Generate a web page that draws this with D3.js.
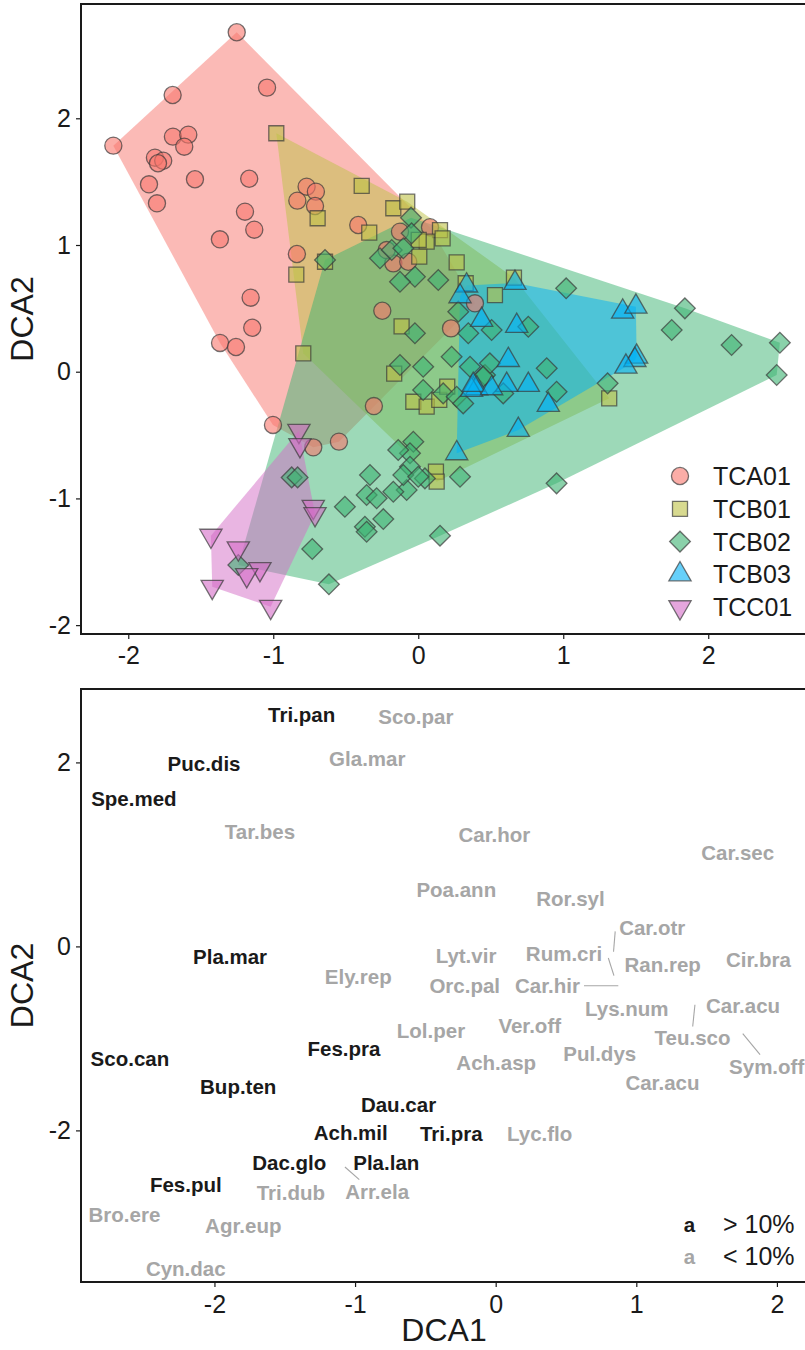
<html>
<head>
<meta charset="utf-8">
<script src="https://d3js.org/d3.v7.min.js"></script>
<style>
  body { margin: 0; background: #fff; }
  text { font-family: "Liberation Sans", Arial, Helvetica, sans-serif; }
</style>
</head>
<body>
<svg id="dca" width="805" height="1350"></svg>
<script>
// ---- site scores (DCA1, DCA2) per group ----
const groups = ["TCA01", "TCB01", "TCB02", "TCB03", "TCC01"];

const tca01 = [
  [-1.252, 2.679], [-1.694, 2.184], [-1.043, 2.242], [-2.103, 1.784], [-1.692, 1.855],
  [-1.586, 1.871], [-1.614, 1.776], [-1.816, 1.689], [-1.759, 1.665], [-1.795, 1.645],
  [-1.857, 1.479], [-1.540, 1.519], [-1.166, 1.523], [-1.802, 1.329], [-1.195, 1.263],
  [-1.131, 1.121], [-1.368, 1.045], [-1.156, 0.584], [-1.145, 0.347], [-1.367, 0.227],
  [-1.257, 0.195], [-1.002, -0.420], [-0.724, -0.597], [-0.547, -0.552], [-0.306, -0.271],
  [-0.770, 1.460], [-0.706, 1.421], [-0.834, 1.350], [-0.712, 1.308], [-0.414, 1.158],
  [-0.837, 0.929], [-0.248, 0.481], [-0.126, 1.105], [0.081, 1.140], [-0.172, 0.855],
  [-0.069, 0.868], [-0.218, 0.960], [0.226, 0.342], [0.391, 0.540]
];

const tcb01 = [
  [-0.979, 1.882], [-0.390, 1.466], [-0.172, 1.290], [-0.076, 1.342], [-0.694, 1.211],
  [-0.338, 1.097], [-0.841, 0.766], [-0.643, 0.868], [-0.115, 0.358], [0.150, 1.118],
  [0.168, 1.053], [0.058, 1.026], [0.003, 1.040], [0.007, 0.908], [0.265, 0.863],
  [0.327, 0.698], [0.660, 0.742], [0.529, 0.605], [-0.793, 0.145], [-0.166, -0.015],
  [-0.034, -0.237], [0.058, -0.276], [0.145, -0.223], [0.200, -0.118], [0.122, -0.789],
  [0.127, -0.868], [1.317, -0.210]
];

const tcb02 = [
  [1.020, 0.658], [1.839, 0.500], [1.748, 0.329], [2.161, 0.211], [2.494, 0.229],
  [2.472, -0.026], [1.306, -0.092], [0.954, -0.158], [0.886, 0.027], [0.759, 0.355],
  [0.506, 0.329], [0.345, 0.303], [0.230, 0.118], [0.034, 0.039], [-0.023, 0.303],
  [-0.023, 0.750], [0.138, 0.724], [0.276, 0.474], [0.357, 0.039], [0.460, -0.026],
  [0.034, -0.144], [0.172, -0.171], [0.265, -0.197], [0.310, -0.250], [-0.034, -0.553],
  [-0.057, -0.644], [-0.057, -0.750], [0.046, -0.842], [0.288, -0.829], [0.954, -0.881],
  [-0.080, -0.934], [-0.126, 0.053], [0.494, 0.066], [0.448, -0.039], [0.586, -0.171],
  [-0.138, -0.618], [-0.333, -0.815], [-0.103, -0.815], [-0.172, -0.947], [-0.356, -0.973],
  [-0.287, -0.999], [-0.506, -1.066], [-0.241, -1.163], [-0.368, -1.223], [-0.356, -1.263],
  [0.150, -1.294], [-0.731, -1.399], [-0.616, -1.678], [-0.873, -0.834], [-0.832, -0.834],
  [-1.241, -1.526], [-0.050, 1.216], [-0.046, 1.092], [-0.643, 0.882], [-0.264, 0.895],
  [-0.183, 0.960], [-0.103, 0.974], [-0.126, 0.710], [0.000, -0.829]
];

const tcb03 = [
  [1.410, 0.474], [1.501, 0.513], [1.506, 0.118], [1.494, 0.092], [1.432, 0.039],
  [0.667, 0.700], [0.333, 0.680], [0.288, 0.595], [0.437, 0.408], [0.679, 0.361],
  [0.621, 0.092], [0.759, -0.105], [0.610, -0.105], [0.403, -0.131], [0.368, -0.144],
  [0.379, -0.105], [0.506, -0.131], [0.897, -0.263], [0.690, -0.460], [0.265, -0.644]
];

const tcc01 = [
  [-0.823, -0.466], [-0.816, -0.579], [-0.724, -1.066], [-0.712, -1.123], [-1.430, -1.294],
  [-1.241, -1.394], [-1.092, -1.557], [-1.183, -1.605], [-1.421, -1.697], [-1.018, -1.855]
];

// ---- species scores: name, DCA1, DCA2 ----
const speciesOver10 = [
  ["Tri.pan", -1.380, 2.518], ["Puc.dis", -2.074, 1.986], ["Spe.med", -2.573, 1.602],
  ["Pla.mar", -1.889, -0.109], ["Sco.can", -2.601, -1.224], ["Bup.ten", -1.831, -1.528],
  ["Fes.pra", -1.079, -1.115], ["Dau.car", -0.691, -1.721], ["Ach.mil", -1.031, -2.028],
  ["Tri.pra", -0.316, -2.039], ["Dac.glo", -1.468, -2.354], ["Pla.lan", -0.778, -2.354],
  ["Fes.pul", -2.204, -2.590]
];

const speciesUnder10 = [
  ["Sco.par", -0.568, 2.500], ["Gla.mar", -0.913, 2.037], ["Tar.bes", -1.676, 1.243],
  ["Car.hor", -0.009, 1.214], ["Car.sec", 1.721, 1.015], ["Poa.ann", -0.280, 0.616],
  ["Ror.syl", 0.532, 0.515], ["Car.otr", 1.113, 0.200], ["Lyt.vir", -0.211, -0.101],
  ["Rum.cri", 0.486, -0.079], ["Ran.rep", 1.188, -0.199], ["Cir.bra", 1.868, -0.145],
  ["Ely.rep", -0.977, -0.333], ["Orc.pal", -0.220, -0.427], ["Car.hir", 0.368, -0.427],
  ["Lys.num", 0.932, -0.680], ["Car.acu", 1.759, -0.645], ["Lol.per", -0.460, -0.916],
  ["Ver.off", 0.242, -0.862], ["Teu.sco", 1.400, -0.996], ["Ach.asp", 0.004, -1.261],
  ["Pul.dys", 0.740, -1.170], ["Sym.off", 1.927, -1.304], ["Car.acu", 1.186, -1.485],
  ["Lyc.flo", 0.313, -2.039], ["Tri.dub", -1.457, -2.674], ["Arr.ela", -0.843, -2.663],
  ["Bro.ere", -2.640, -2.916], ["Agr.eup", -1.795, -3.036], ["Cyn.dac", -2.204, -3.503]
];

// repel leader segments: x1, y1, x2, y2
const leaders = [
  [0.850, 0.163, 0.838, -0.058], [0.801, -0.126, 0.841, -0.318],
  [0.628, -0.427, 0.872, -0.427], [1.417, -0.634, 1.401, -0.870],
  [1.757, -0.949, 1.880, -1.177], [-1.072, -2.398, -0.970, -2.536]
];

const topXTicks = [-2, -1, 0, 1, 2];
const topYTicks = [-2, -1, 0, 1, 2];
const botXTicks = [-2, -1, 0, 1, 2];
const botYTicks = [-2, 0, 2];
const abundanceKey = ["> 10%", "< 10%"];

// ---- styling ----
const colors = {TCA01: "#F8766D", TCB01: "#BEC146", TCB02: "#3CB371", TCB03: "#00B0F6", TCC01: "#D36BC6"};
const shapes = {
  TCA01: {type: d3.symbolCircle, size: 230, rot: 0},
  TCB01: {type: d3.symbolSquare, size: 225, rot: 0},
  TCB02: {type: d3.symbolSquare, size: 215, rot: 45},
  TCB03: {type: d3.symbolTriangle, size: 215, rot: 0},
  TCC01: {type: d3.symbolTriangle, size: 215, rot: 180}
};
const ink = "#1a1a1a";
const greyInk = "#a6a6a6";

const svg = d3.select("#dca");

const topBox = {left: 81, top: 4, right: 808, bottom: 634};
const botBox = {left: 81, top: 689, right: 808, bottom: 1282};

const xTop = d3.scaleLinear().domain([-2.326, 2.688]).range([topBox.left, topBox.right]);
const yTop = d3.scaleLinear().domain([-2.070, 2.902]).range([topBox.bottom, topBox.top]);
const xBot = d3.scaleLinear().domain([-2.949, 2.221]).range([botBox.left, botBox.right]);
const yBot = d3.scaleLinear().domain([-3.648, 2.798]).range([botBox.bottom, botBox.top]);

// plain hyphen for negatives, as in the original figure
const tickText = d => String(d);

function styleAxis(g) {
  g.select(".domain").remove();
  g.selectAll("line").attr("stroke", ink).attr("stroke-width", 1.2);
  g.selectAll("text").attr("fill", ink).style("font-size", "25px")
    .style("font-family", '"Liberation Sans", Arial, sans-serif');
}

function drawFrame(box, xs, ys, xt, yt, xpad) {
  svg.append("g")
    .attr("transform", `translate(0,${box.bottom})`)
    .call(d3.axisBottom(xs).tickValues(xt).tickSize(5).tickPadding(xpad).tickFormat(tickText))
    .call(styleAxis);
  svg.append("g")
    .attr("transform", `translate(${box.left},0)`)
    .call(d3.axisLeft(ys).tickValues(yt).tickSize(5).tickPadding(5).tickFormat(tickText))
    .call(styleAxis);
  svg.append("rect")
    .attr("x", box.left).attr("y", box.top)
    .attr("width", box.right - box.left).attr("height", box.bottom - box.top)
    .attr("fill", "none").attr("stroke", ink).attr("stroke-width", 2);
}

// ================= top panel: sites =================
const siteData = {TCA01: tca01, TCB01: tcb01, TCB02: tcb02, TCB03: tcb03, TCC01: tcc01};

const clipTop = svg.append("clipPath").attr("id", "clipTop");
clipTop.append("rect").attr("x", topBox.left).attr("y", topBox.top)
  .attr("width", topBox.right - topBox.left).attr("height", topBox.bottom - topBox.top);

const topPlot = svg.append("g").attr("clip-path", "url(#clipTop)");

// convex hulls
topPlot.selectAll("path.hull")
  .data(groups)
  .join("path")
  .attr("class", "hull")
  .attr("d", g => "M" + d3.polygonHull(siteData[g].map(d => [xTop(d[0]), yTop(d[1])])).join("L") + "Z")
  .attr("fill", g => colors[g])
  .attr("fill-opacity", 0.5)
  .attr("stroke", "none");

// points
groups.forEach(g => {
  const sym = d3.symbol().type(shapes[g].type).size(shapes[g].size);
  topPlot.append("g").selectAll("path")
    .data(siteData[g])
    .join("path")
    .attr("d", sym)
    .attr("transform", d => `translate(${xTop(d[0])},${yTop(d[1])}) rotate(${shapes[g].rot})`)
    .attr("fill", colors[g])
    .attr("fill-opacity", 0.6)
    .attr("stroke", "#3a3a3a")
    .attr("stroke-opacity", 0.7)
    .attr("stroke-width", 1.3);
});

drawFrame(topBox, xTop, yTop, topXTicks, topYTicks, 7);

svg.append("text")
  .attr("transform", `translate(33,${(topBox.top + topBox.bottom) / 2}) rotate(-90)`)
  .attr("text-anchor", "middle")
  .attr("fill", ink)
  .style("font-size", "32px")
  .text("DCA2");

// legend
const legend = svg.append("g").attr("transform", "translate(680,476)");
groups.forEach((g, i) => {
  const row = legend.append("g").attr("transform", `translate(0,${i * 32.8})`);
  row.append("path")
    .attr("d", d3.symbol().type(shapes[g].type).size(shapes[g].size)())
    .attr("transform", `rotate(${shapes[g].rot})`)
    .attr("fill", colors[g])
    .attr("fill-opacity", 0.6)
    .attr("stroke", "#3a3a3a")
    .attr("stroke-opacity", 0.7)
    .attr("stroke-width", 1.3);
  row.append("text")
    .attr("x", 33)
    .attr("y", 9)
    .attr("fill", ink)
    .style("font-size", "25px")
    .text(g);
});

// ================= bottom panel: species =================
const botPlot = svg.append("g");

botPlot.selectAll("line.leader")
  .data(leaders)
  .join("line")
  .attr("class", "leader")
  .attr("x1", d => xBot(d[0])).attr("y1", d => yBot(d[1]))
  .attr("x2", d => xBot(d[2])).attr("y2", d => yBot(d[3]))
  .attr("stroke", greyInk)
  .attr("stroke-width", 1.1);

botPlot.selectAll("text.under")
  .data(speciesUnder10)
  .join("text")
  .attr("class", "under")
  .attr("x", d => xBot(d[1]))
  .attr("y", d => yBot(d[2]))
  .attr("dy", "0.36em")
  .attr("text-anchor", "middle")
  .attr("fill", greyInk)
  .style("font-size", "20.5px")
  .style("font-weight", "bold")
  .text(d => d[0]);

botPlot.selectAll("text.over")
  .data(speciesOver10)
  .join("text")
  .attr("class", "over")
  .attr("x", d => xBot(d[1]))
  .attr("y", d => yBot(d[2]))
  .attr("dy", "0.36em")
  .attr("text-anchor", "middle")
  .attr("fill", ink)
  .style("font-size", "20.5px")
  .style("font-weight", "bold")
  .text(d => d[0]);

drawFrame(botBox, xBot, yBot, botXTicks, botYTicks, 8);

svg.append("text")
  .attr("transform", `translate(33,${(botBox.top + botBox.bottom) / 2}) rotate(-90)`)
  .attr("text-anchor", "middle")
  .attr("fill", ink)
  .style("font-size", "32px")
  .text("DCA2");

svg.append("text")
  .attr("x", 444)
  .attr("y", 1341)
  .attr("text-anchor", "middle")
  .attr("fill", ink)
  .style("font-size", "32px")
  .text("DCA1");

// abundance key
const key = svg.append("g").attr("transform", "translate(0,1232)");
abundanceKey.forEach((k, i) => {
  key.append("text")
    .attr("x", 689.5)
    .attr("y", i * 32)
    .attr("text-anchor", "middle")
    .attr("fill", i === 0 ? ink : greyInk)
    .style("font-size", "20.5px")
    .style("font-weight", "bold")
    .text("a");
  key.append("text")
    .attr("x", 723)
    .attr("y", i * 32 + 1)
    .attr("fill", ink)
    .style("font-size", "25px")
    .text(k);
});
</script>
</body>
</html>
